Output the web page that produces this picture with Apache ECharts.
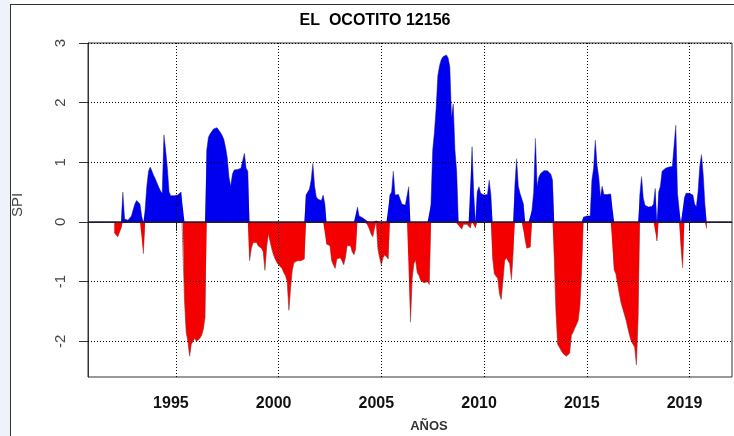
<!DOCTYPE html>
<html>
<head>
<meta charset="utf-8">
<script src="https://cdn.jsdelivr.net/npm/echarts@6/dist/echarts.min.js"></script>
<style>
  html, body { margin: 0; padding: 0; background: #ffffff; }
  #chart { width: 734px; height: 436px; }
</style>
</head>
<body>
<div id="chart"></div>
<script>
// Monthly SPI values, January to December of each year
const firstYear = 1992;
const spi1992 = [-0.18, -0.2, -0.25, -0.24, -0.1, 0.5, 0.05, 0.02, 0.03, 0.06, 0.1, 0.2];
const spi1993 = [0.3, 0.36, 0.36, 0.3, 0.1, -0.53, 0.2, 0.6, 0.85, 0.92, 0.85, 0.78];
const spi1994 = [0.72, 0.65, 0.58, 0.52, 0.48, 1.46, 1.2, 0.9, 0.5, 0.44, 0.43, 0.44];
const spi1995 = [0.45, 0.45, 0.46, 0.5, 0.52, -1.3, -1.85, -2.0, -2.25, -2.05, -2.0, -1.95];
const spi1996 = [-2.0, -1.98, -1.95, -1.9, -1.8, -1.6, 1.2, 1.42, 1.48, 1.52, 1.56, 1.58];
const spi1997 = [1.58, 1.55, 1.5, 1.45, 1.38, 1.25, 1.07, 0.75, 0.6, 0.8, 0.87, 0.87];
const spi1998 = [0.88, 0.88, 0.9, 0.9, 1.15, 0.9, 0.85, -0.65, -0.45, -0.35, -0.33, -0.34];
const spi1999 = [-0.4, -0.42, -0.44, -0.5, -0.81, -0.42, -0.2, -0.22, -0.45, -0.55, -0.62, -0.68];
const spi2000 = [-0.72, -0.75, -0.78, -0.85, -0.9, -1.0, -1.48, -1.1, -0.8, -0.68, -0.66, -0.65];
const spi2001 = [-0.65, -0.65, -0.64, -0.62, 0.45, 0.5, 0.55, 0.7, 0.98, 0.6, 0.42, 0.38];
const spi2002 = [0.37, 0.36, 0.45, 0.3, -0.37, -0.37, -0.4, -0.65, -0.72, -0.78, -0.62, -0.6];
const spi2003 = [-0.6, -0.65, -0.72, -0.6, -0.4, -0.38, -0.4, -0.5, -0.55, -0.45, 0.25, 0.1];
const spi2004 = [0.08, 0.07, 0.05, 0.03, -0.05, -0.12, -0.2, -0.25, -0.1, 0.02, -0.45, -0.6];
const spi2005 = [-0.72, -0.6, -0.55, -0.55, -0.62, 0.45, 0.5, 0.85, 0.45, 0.48, 0.46, 0.38];
const spi2006 = [0.3, 0.28, 0.28, 0.27, 0.59, -1.68, -0.95, -0.7, -0.64, -0.85, -0.9, -0.98];
const spi2007 = [-1.0, -1.02, -1.02, -1.0, -1.05, 0.3, 1.2, 1.5, 1.9, 2.45, 2.62, 2.72];
const spi2008 = [2.77, 2.8, 2.8, 2.75, 2.6, 1.75, 1.98, 1.2, 0.85, -0.05, -0.03, -0.12];
const spi2009 = [-0.04, -0.03, -0.04, -0.03, -0.1, 1.26, 0.45, -0.1, 0.5, 0.59, 0.48, 0.45];
const spi2010 = [0.45, 0.45, 0.46, 0.7, 0.45, -0.6, -0.87, -0.88, -0.95, -1.2, -1.3, -1.0];
const spi2011 = [-0.65, -0.6, -0.6, -0.7, -0.97, -0.5, 0.6, 1.06, 0.6, 0.48, 0.46, 0.3];
const spi2012 = [-0.3, -0.44, -0.45, -0.42, 0.2, 0.5, 1.4, 0.6, 0.75, 0.81, 0.84, 0.86];
const spi2013 = [0.87, 0.86, 0.84, 0.8, 0.7, -0.6, -1.5, -2.05, -2.1, -2.12, -2.2, -2.22];
const spi2014 = [-2.25, -2.27, -2.2, -1.9, -1.85, -1.78, -1.72, -1.65, -1.4, -0.8, 0.08, 0.1];
const spi2015 = [0.1, 0.08, 0.1, 0.7, 0.9, 1.37, 0.95, 0.75, 0.42, 0.6, 0.46, 0.47];
const spi2016 = [0.46, 0.46, 0.47, 0.48, -0.8, -0.87, -0.9, -1.2, -1.35, -1.45, -1.55, -1.65];
const spi2017 = [-1.78, -1.9, -2.0, -2.05, -2.1, -2.4, -1.6, 0.45, 0.76, 0.4, 0.28, 0.26];
const spi2018 = [0.25, 0.24, 0.26, 0.3, 0.56, -0.32, 0.5, 0.6, 0.85, 0.88, 0.9, 0.91];
const spi2019 = [0.92, 0.93, 0.93, 0.95, 1.62, 0.48, 0.2, -0.4, -0.77, 0.4, 0.48, 0.48];
const spi2020 = [0.48, 0.47, 0.45, 0.3, 0.25, 0.5, 0.92, 1.13, 0.8, 0.3, -0.11];

const yearlySpi = [spi1992, spi1993, spi1994, spi1995, spi1996, spi1997, spi1998, spi1999,
  spi2000, spi2001, spi2002, spi2003, spi2004, spi2005, spi2006, spi2007, spi2008, spi2009,
  spi2010, spi2011, spi2012, spi2013, spi2014, spi2015, spi2016, spi2017, spi2018, spi2019, spi2020];

// Axis ticks and their labels
const xTickValues = [1995, 2000, 2005, 2010, 2015, 2020];
const xTickLabels = ['1995', '2000', '2005', '2010', '2015', '2019'];
const yTickValues = [-2, -1, 0, 1, 2, 3];
const yTickLabels = ['-2', '-1', '0', '1', '2', '3'];

const titleText = 'EL  OCOTITO 12156';
const xName = 'AÑOS';
const yName = 'SPI';

// Build [decimal year, SPI] pairs
const monthly = [];
yearlySpi.forEach((row, i) => {
  row.forEach((v, m) => monthly.push([firstYear + i + m / 12, v]));
});
const wetPart = monthly.map(p => [p[0], Math.max(p[1], 0)]);
const dryPart = monthly.map(p => [p[0], Math.min(p[1], 0)]);

const chart = echarts.init(document.getElementById('chart'), null, { renderer: 'canvas' });
const font = 'Liberation Sans, Arial, sans-serif';

chart.setOption({
  animation: false,
  backgroundColor: '#ffffff',
  grid: {
    left: 88, right: 2, top: 43, bottom: 59,
    show: true, borderColor: '#333333', borderWidth: 1, backgroundColor: 'transparent'
  },
  xAxis: {
    type: 'value', min: 1990.72, max: 2022.07,
    axisLine: { show: true, lineStyle: { color: '#333333', width: 1 } },
    axisTick: { show: true, customValues: xTickValues, length: 9, lineStyle: { color: '#333333' } },
    axisLabel: {
      customValues: xTickValues,
      formatter: v => xTickLabels[xTickValues.indexOf(v)],
      fontFamily: font, fontSize: 16, fontWeight: 'bold', color: '#111111',
      margin: 19, padding: [0, 10, 0, 0]
    },
    splitLine: { show: false }
  },
  yAxis: {
    type: 'value', min: -2.6, max: 3.0,
    axisLine: { show: true, lineStyle: { color: '#333333', width: 1 } },
    axisTick: { show: true, customValues: yTickValues, length: 9, lineStyle: { color: '#333333' } },
    axisLabel: {
      customValues: yTickValues,
      formatter: v => yTickLabels[yTickValues.indexOf(v)],
      rotate: 90, margin: 20,
      fontFamily: font, fontSize: 15, color: '#444444'
    },
    splitLine: { show: false }
  },
  graphic: [
    { type: 'rect', shape: { x: 0, y: 0, width: 10, height: 436 }, style: { fill: '#eef3f9' }, silent: true },
    { type: 'line', shape: { x1: 10.5, y1: 4, x2: 10.5, y2: 436 }, style: { stroke: '#333333', lineWidth: 1 }, silent: true },
    { type: 'line', shape: { x1: 10, y1: 4.5, x2: 734, y2: 4.5 }, style: { stroke: '#333333', lineWidth: 1 }, silent: true },
    {
      type: 'text', x: 375, y: 21, silent: true,
      style: { text: titleText, font: 'bold 16px ' + font, fill: '#000000', align: 'center', verticalAlign: 'middle' }
    },
    {
      type: 'text', x: 429, y: 426, silent: true,
      style: { text: xName, font: 'bold 13px ' + font, fill: '#333333', align: 'center', verticalAlign: 'middle' }
    },
    {
      type: 'text', x: 18, y: 205, rotation: Math.PI / 2, silent: true,
      style: { text: yName, font: '15px ' + font, fill: '#444444', align: 'center', verticalAlign: 'middle' }
    }
  ],
  series: [
    {
      // dotted reference grid
      type: 'line', data: [], z: 1, silent: true,
      markLine: {
        silent: true, symbol: 'none', animation: false,
        label: { show: false },
        lineStyle: { color: '#000000', width: 1, type: [1, 2] },
        data: yTickValues.map(v => ({ yAxis: v })).concat(xTickValues.map(v => ({ xAxis: v })))
      }
    },
    {
      // grey trace of the monthly values under the coloured fills
      type: 'line', data: monthly, z: 2, silent: true, symbol: 'none',
      lineStyle: { color: '#909090', width: 1 }
    },
    {
      type: 'line', data: wetPart, z: 3, silent: true, symbol: 'none',
      lineStyle: { width: 0 },
      areaStyle: { color: '#0000f0', opacity: 1 }
    },
    {
      type: 'line', data: dryPart, z: 3, silent: true, symbol: 'none',
      lineStyle: { width: 0 },
      areaStyle: { color: '#f50000', opacity: 1 },
      markLine: {
        silent: true, symbol: 'none', animation: false,
        label: { show: false },
        lineStyle: { color: '#1c1c3a', width: 1.5, type: 'solid' },
        data: [{ yAxis: 0 }]
      }
    }
  ]
});
</script>
</body>
</html>
